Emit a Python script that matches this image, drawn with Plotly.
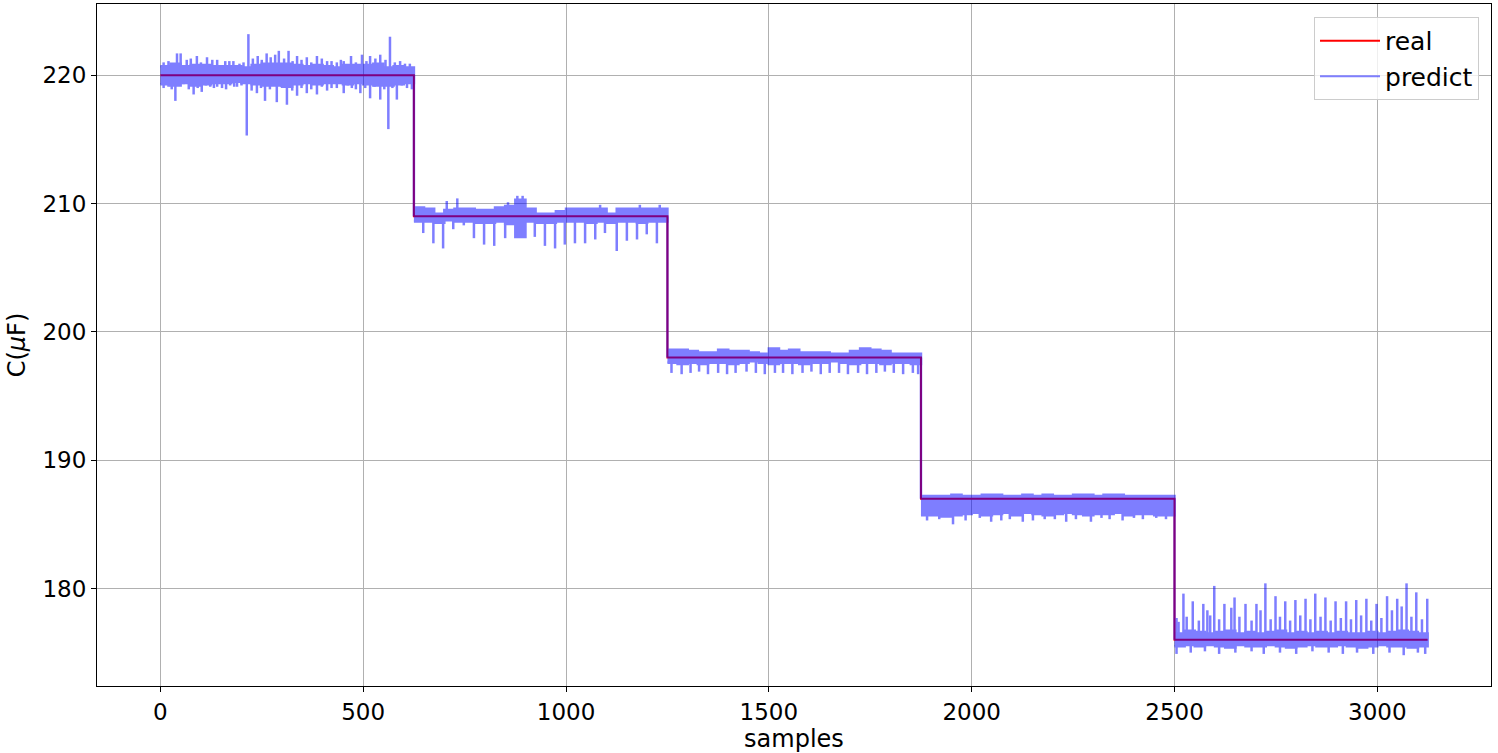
import plotly.graph_objects as go

# step levels of the real capacitance (one level per 625-sample segment)
real_x = [0, 625, 1250, 1875, 2500, 3124]
real_y = [220, 209, 198, 187, 176, 176]
block = 25

upper_1 = [220.7, 220.9, 220.7, 220.8, 220.8, 220.7, 220.7, 220.7, 220.6, 220.8, 220.9, 220.9, 220.9,
           220.8, 220.7, 220.8, 220.7, 220.6, 220.8, 220.8, 220.8, 220.9, 220.6, 220.7, 220.6]
lower_1 = [219.3, 219.2, 219.4, 219.2, 219.3, 219.4, 219.4, 219.5, 219.4, 219.3, 219.2, 219.2, 219.1,
           219.3, 219.4, 219.3, 219.4, 219.4, 219.3, 219.4, 219.3, 219.2, 219.2, 219.3, 219.4]
upper_2 = [209.7, 209.6, 209.2, 209.5, 209.6, 209.6, 209.5, 209.5, 209.7, 209.8, 210.3, 209.6, 209.2,
           209.2, 209.4, 209.6, 209.6, 209.6, 209.6, 209.2, 209.6, 209.6, 209.6, 209.6, 209.6]
lower_2 = [208.6, 208.6, 208.5, 208.7, 208.6, 208.6, 208.5, 208.5, 208.6, 208.4, 207.4, 208.6, 208.5,
           208.5, 208.6, 208.6, 208.6, 208.5, 208.6, 208.5, 208.6, 208.6, 208.5, 208.6, 208.6]
upper_3 = [198.6, 198.6, 198.5, 198.4, 198.4, 198.6, 198.5, 198.5, 198.4, 198.3, 198.7, 198.5, 198.6,
           198.4, 198.4, 198.4, 198.3, 198.3, 198.5, 198.7, 198.6, 198.5, 198.3, 198.3, 198.3]
lower_3 = [197.6, 197.5, 197.6, 197.5, 197.6, 197.6, 197.5, 197.6, 197.7, 197.6, 197.5, 197.6, 197.6,
           197.5, 197.6, 197.6, 197.7, 197.6, 197.5, 197.6, 197.6, 197.5, 197.6, 197.6, 197.5]
upper_4 = [187.2, 187.2, 187.2, 187.3, 187.2, 187.2, 187.3, 187.3, 187.2, 187.2, 187.3, 187.2, 187.3,
           187.2, 187.2, 187.3, 187.3, 187.2, 187.3, 187.3, 187.2, 187.2, 187.2, 187.2, 187.2]
lower_4 = [185.7, 185.7, 185.6, 185.7, 185.8, 185.9, 185.7, 185.8, 185.9, 185.7, 185.9, 185.8, 185.7,
           185.8, 185.9, 185.8, 185.7, 185.8, 185.8, 185.9, 185.7, 185.8, 185.8, 185.7, 185.7]
upper_5 = [176.5, 176.7, 176.6, 176.5, 176.6, 176.7, 176.5, 176.6, 176.5, 176.6, 176.7, 176.5, 176.6,
           176.5, 176.6, 176.5, 176.6, 176.5, 176.5, 176.6, 176.5, 176.6, 176.7, 176.6, 176.5]
lower_5 = [175.5, 175.6, 175.5, 175.6, 175.5, 175.4, 175.6, 175.5, 175.5, 175.6, 175.5, 175.4, 175.5,
           175.6, 175.5, 175.5, 175.6, 175.5, 175.4, 175.5, 175.6, 175.5, 175.5, 175.4, 175.5]

# predict: single-sample spikes (sample index, value)
spike_x_1 = [8, 41, 50, 90, 115, 140, 160, 180, 217, 240, 262, 283, 292, 316, 337, 361, 386, 411, 435,
             452, 470, 497, 517, 542, 566, 591, 615,
             20, 30, 65, 75, 100, 128, 170, 195, 205, 228, 250, 272, 305, 326, 348, 372, 398, 422, 445,
             482, 508, 530, 555, 578, 603,
             8, 37, 57, 82, 102, 123, 140, 152, 172, 189, 213, 238, 258, 287, 312, 337, 361, 386, 411,
             435, 452, 472, 493, 517, 542, 562, 583, 608, 620,
             20, 28, 45, 70, 92, 112, 132, 162, 182, 200, 225, 248, 270, 298, 325, 348, 372, 398, 422,
             462, 482, 505, 528, 552, 572, 595]
spike_y_1 = [221.0, 221.7, 221.7, 221.5, 221.4, 221.2, 221.1, 221.1, 223.2, 221.5, 221.7, 221.6, 221.9,
             221.9, 221.5, 221.4, 221.5, 221.1, 221.0, 221.1, 221.5, 221.6, 221.5, 221.6, 223.0, 221.1, 220.9,
             221.1, 220.9, 221.2, 221.3, 221.0, 221.2, 221.1, 220.9, 221.0, 221.3, 221.2, 221.4, 221.3,
             221.1, 221.2, 221.0, 221.3, 221.1, 221.2, 221.0, 221.1, 221.3, 221.2, 221.0, 220.9,
             219.0, 218.0, 219.3, 218.5, 218.7, 219.1, 219.1, 219.0, 219.2, 219.1, 215.3, 218.6, 218.0,
             217.9, 217.7, 218.4, 218.6, 218.5, 218.8, 219.0, 218.6, 219.0, 218.6, 218.2, 218.1, 215.8,
             218.1, 219.0, 218.9,
             219.1, 218.9, 219.2, 218.9, 219.0, 219.2, 219.0, 218.9, 219.1, 219.2, 218.8, 219.0, 218.9,
             219.1, 218.8, 219.0, 218.9, 219.1, 219.0, 219.2, 218.9, 219.0, 219.1, 218.9, 219.0, 219.2]
spike_x_2 = [706, 732, 857, 880, 893, 1084, 1182, 1231,
             648, 673, 697, 722, 748, 773, 798, 823, 850, 923, 948, 973, 997, 1022, 1047, 1072, 1096,
             1125, 1150, 1175, 1199, 1224]
spike_y_2 = [210.2, 210.4, 210.1, 210.6, 210.6, 209.9, 209.9, 209.9,
             207.7, 206.9, 206.5, 208.0, 208.3, 207.3, 206.8, 206.7, 207.3, 207.4, 206.7, 206.5, 206.8,
             206.9, 206.9, 207.2, 207.7, 206.3, 207.1, 207.2, 207.6, 206.9]
spike_x_3 = [1260, 1285, 1307, 1328, 1350, 1375, 1397, 1418, 1445, 1468, 1490, 1515, 1535, 1558, 1583,
             1605, 1628, 1650, 1673, 1695, 1720, 1742, 1765, 1786, 1808, 1831, 1855, 1868]
spike_y_3 = [196.8, 196.7, 196.8, 196.9, 196.7, 196.8, 196.7, 196.8, 196.9, 196.8, 196.7, 196.8, 196.8,
             196.7, 196.8, 196.9, 196.7, 196.8, 196.8, 196.7, 196.8, 196.7, 196.8, 196.9, 196.8, 196.7,
             196.8, 196.7]
spike_x_4 = [1890, 1920, 1954, 1985, 2020, 2048, 2073, 2094, 2126, 2151, 2180, 2205, 2233, 2257, 2294,
             2320, 2340, 2372, 2400, 2422, 2455, 2479]
spike_y_4 = [185.3, 185.4, 185.0, 185.3, 185.5, 185.2, 185.3, 185.4, 185.2, 185.3, 185.4, 185.4, 185.2,
             185.4, 185.2, 185.5, 185.4, 185.3, 185.5, 185.4, 185.5, 185.4]
spike_x_5 = [2505, 2522, 2545, 2571, 2581, 2598, 2623, 2640, 2648, 2675, 2702, 2724, 2749, 2773, 2798,
             2823, 2847, 2872, 2897, 2923, 2948, 2973, 2998, 3024, 3049, 3072, 3096, 3123,
             2510, 2530, 2560, 2588, 2610, 2660, 2690, 2712, 2737, 2760, 2785, 2810, 2835, 2860, 2885,
             2910, 2935, 2960, 2985, 3010, 3036, 3060, 3084, 3110,
             2505, 2540, 2575, 2610, 2650, 2690, 2720, 2760, 2800, 2840, 2880, 2915, 2950, 2990, 3030,
             3065, 3100, 3118]
spike_y_5 = [177.7, 179.6, 179.0, 178.8, 178.3, 180.2, 178.8, 178.5, 179.3, 178.8, 178.8, 180.4, 179.4,
             179.0, 179.1, 179.2, 179.6, 179.3, 179.0, 179.0, 179.1, 179.2, 178.8, 179.4, 179.2, 180.4,
             179.7, 179.2,
             177.4, 177.8, 177.5, 177.9, 177.6, 177.8, 177.5, 178.3, 177.6, 177.8, 177.5, 177.9, 177.6,
             177.8, 177.5, 177.7, 177.6, 177.9, 177.5, 177.7, 178.3, 178.6, 177.8, 177.6,
             174.9, 175.0, 175.1, 174.9, 175.0, 175.1, 174.9, 175.0, 174.9, 175.1, 175.0, 174.9, 175.0,
             174.9, 175.0, 174.8, 175.0, 174.9]

uppers = [upper_1, upper_2, upper_3, upper_4, upper_5]
lowers = [lower_1, lower_2, lower_3, lower_4, lower_5]
spikes_x = [spike_x_1, spike_x_2, spike_x_3, spike_x_4, spike_x_5]
spikes_y = [spike_y_1, spike_y_2, spike_y_3, spike_y_4, spike_y_5]

px, py = [], []
for i in range(5):
    start, end, level = real_x[i], real_x[i + 1], real_y[i]
    up, lo = uppers[i], lowers[i]
    edges = [start + block * k for k in range(len(up))] + [end]
    # band polygon: upper edge forwards, lower edge backwards
    for k in range(len(up)):
        px += [edges[k], edges[k + 1]]
        py += [up[k], up[k]]
    for k in reversed(range(len(lo))):
        px += [edges[k + 1], edges[k]]
        py += [lo[k], lo[k]]
    px.append(None)
    py.append(None)
    for sx, sy in zip(spikes_x[i], spikes_y[i]):
        px += [sx, sx, None]
        py += [level, sy, None]
    if i < 4:
        px += [end, end, None]
        py += [level, real_y[i + 1], None]

fig = go.Figure()
fig.add_trace(go.Scatter(x=real_x, y=real_y, mode="lines", line=dict(color="red", width=2, shape="hv"),
                         name="real"))
fig.add_trace(go.Scatter(x=px, y=py, mode="lines", fill="toself", fillcolor="blue",
                         line=dict(color="blue", width=2.5), opacity=0.5, showlegend=False))
fig.add_trace(go.Scatter(x=[None], y=[None], mode="lines", line=dict(color="blue", width=2), opacity=0.5,
                         name="predict"))

axis_common = dict(showline=True, linecolor="black", linewidth=1, mirror=True, ticks="outside",
                   ticklen=5, tickcolor="black", showgrid=True, gridcolor="#b0b0b0", gridwidth=1,
                   zeroline=False, tickfont=dict(size=23, color="black"))

fig.update_layout(
    width=1498, height=753,
    margin=dict(l=97, r=7, t=4, b=67),
    plot_bgcolor="white", paper_bgcolor="white",
    font=dict(family="DejaVu Sans", color="black"),
    xaxis=dict(range=[-156.2, 3280.2], tickvals=[0, 500, 1000, 1500, 2000, 2500, 3000],
               title=dict(text="samples", font=dict(size=24), standoff=4), **axis_common),
    yaxis=dict(range=[172.4, 225.55], tickvals=[180, 190, 200, 210, 220],
               title=dict(text="C(<i>μ</i>F)", font=dict(size=24), standoff=10), **axis_common),
    legend=dict(x=0.9914, y=0.981, xanchor="right", yanchor="top", bgcolor="rgba(255,255,255,0.8)",
                bordercolor="#cccccc", borderwidth=1, font=dict(size=25), itemwidth=60),
)

fig.write_html("out.html", config={"displayModeBar": False},
               post_script="document.body.style.margin='0px';")
